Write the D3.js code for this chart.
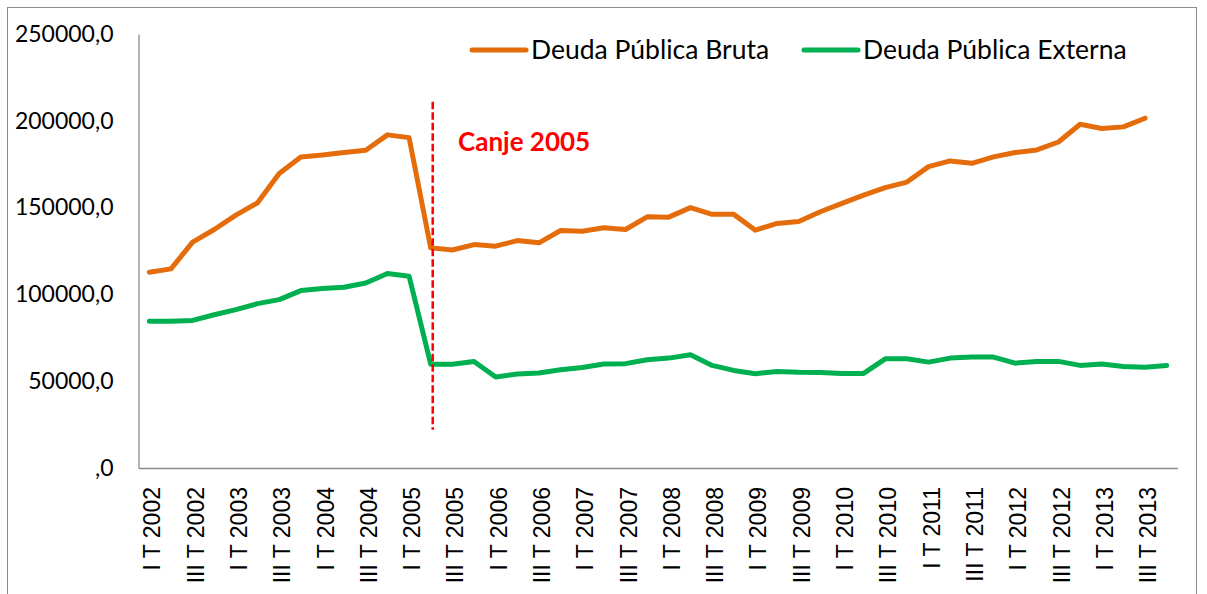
<!DOCTYPE html>
<html>
<head>
<meta charset="utf-8">
<script src="https://cdn.jsdelivr.net/npm/d3@7"></script>
<style>
  body { margin: 0; background: #fff; }
  svg { display: block; }
</style>
</head>
<body>
<div id="chart"></div>
<script>
// quarterly data, I T 2002 .. IV T 2013
const categories = [
  "I T 2002", "II T 2002", "III T 2002", "IV T 2002",
  "I T 2003", "II T 2003", "III T 2003", "IV T 2003",
  "I T 2004", "II T 2004", "III T 2004", "IV T 2004",
  "I T 2005", "II T 2005", "III T 2005", "IV T 2005",
  "I T 2006", "II T 2006", "III T 2006", "IV T 2006",
  "I T 2007", "II T 2007", "III T 2007", "IV T 2007",
  "I T 2008", "II T 2008", "III T 2008", "IV T 2008",
  "I T 2009", "II T 2009", "III T 2009", "IV T 2009",
  "I T 2010", "II T 2010", "III T 2010", "IV T 2010",
  "I T 2011", "II T 2011", "III T 2011", "IV T 2011",
  "I T 2012", "II T 2012", "III T 2012", "IV T 2012",
  "I T 2013", "II T 2013", "III T 2013", "IV T 2013"
];

const deudaBruta = [
  112800, 114700, 130100, 137400, 145700, 152800, 169700, 179200,
  180300, 181700, 183000, 191900, 190300, 126800, 125600, 128700,
  127800, 131000, 129700, 136800, 136400, 138400, 137400, 144700,
  144500, 150000, 146100, 146100, 137000, 140900, 142000, 147600,
  152400, 157200, 161500, 164700, 173600, 176900, 175500, 179200,
  181700, 183200, 187800, 198000, 195600, 196500, 201500, null
];

const deudaExterna = [
  84500, 84500, 85000, 88300, 91200, 94700, 97000, 102200,
  103400, 104100, 106600, 112000, 110500, 59800, 59800, 61400,
  52400, 54100, 54700, 56600, 57900, 59900, 60100, 62400,
  63300, 65200, 59100, 56200, 54300, 55600, 55100, 55000,
  54500, 54500, 62900, 62900, 61000, 63300, 63900, 63900,
  60400, 61400, 61400, 59100, 59900, 58500, 58100, 59100
];

const seriesNames = ["Deuda Pública Bruta", "Deuda Pública Externa"];
const seriesColors = ["#E46C0A", "#00B050"];
const yTicks = [0, 50000, 100000, 150000, 200000, 250000];

// annotation: debt swap in 2005
const canjeLabel = "Canje 2005";
const canjeCategory = "II T 2005";
const canjeRange = [22000, 211000];

const width = 1207, height = 594;
const plot = { left: 138.5, right: 1177.5, top: 34, bottom: 468 };

const svg = d3.select("#chart")
  .append("svg")
  .attr("width", width)
  .attr("height", height);

svg.append("rect")
  .attr("width", width).attr("height", height)
  .attr("fill", "#fff");

// outer chart border
svg.append("rect")
  .attr("x", 7.5).attr("y", 7.5)
  .attr("width", 1189).attr("height", 600)
  .attr("fill", "none")
  .attr("stroke", "#8c8c8c")
  .attr("stroke-width", 1);

const x = d3.scaleBand()
  .domain(categories)
  .range([plot.left, plot.right]);
const xc = c => x(c) + x.bandwidth() / 2;

const y = d3.scaleLinear()
  .domain([0, 250000])
  .range([plot.bottom, plot.top]);

const fmt = v => v === 0 ? ",0" : v.toFixed(1).replace(".", ",");

// Y axis
const yAxis = svg.append("g")
  .attr("transform", `translate(${plot.left},0)`)
  .call(d3.axisLeft(y).tickValues(yTicks).tickFormat(fmt).tickSize(0).tickPadding(25));
yAxis.select(".domain").attr("stroke", "#8c8c8c").attr("stroke-width", 1.3);
yAxis.selectAll("text")
  .attr("font-family", "Lato, sans-serif")
  .attr("font-size", 23)
  .attr("fill", "#000");

// X axis
const xAxis = svg.append("g")
  .attr("transform", `translate(0,${plot.bottom})`)
  .call(d3.axisBottom(x)
    .tickValues(categories.filter((d, i) => i % 2 === 0))
    .tickSize(0).tickPadding(0));
xAxis.select(".domain").attr("stroke", "#8c8c8c").attr("stroke-width", 1.3);
xAxis.selectAll("text")
  .attr("font-family", "'Liberation Sans', Arial, sans-serif")
  .attr("font-size", 23)
  .attr("fill", "#000")
  .attr("text-anchor", "end")
  .attr("dy", "0.35em")
  .attr("transform", "translate(3,19) rotate(-90)")
  .attr("x", 0).attr("y", 0);

// lines
const line = d3.line()
  .defined(d => d != null)
  .x((d, i) => xc(categories[i]))
  .y(d => y(d));

[deudaBruta, deudaExterna].forEach((vals, k) => {
  svg.append("path")
    .datum(vals)
    .attr("fill", "none")
    .attr("stroke", seriesColors[k])
    .attr("stroke-width", 5)
    .attr("stroke-linejoin", "round")
    .attr("stroke-linecap", "round")
    .attr("d", line);
});

// Canje 2005 marker
svg.append("line")
  .attr("x1", xc(canjeCategory) + 2).attr("x2", xc(canjeCategory) + 2)
  .attr("y1", y(canjeRange[1])).attr("y2", y(canjeRange[0]))
  .attr("stroke", "#ff0000")
  .attr("stroke-width", 2.5)
  .attr("stroke-dasharray", "7.5,3");

svg.append("text")
  .attr("x", 458).attr("y", 142)
  .attr("dy", "0.35em")
  .attr("font-family", "Lato, sans-serif")
  .attr("font-weight", "bold")
  .attr("font-size", 26)
  .attr("fill", "#ff0000")
  .text(canjeLabel);

// legend
const legendX = [472, 804];
const legend = svg.append("g");
seriesNames.forEach((name, k) => {
  legend.append("line")
    .attr("x1", legendX[k]).attr("x2", legendX[k] + 54)
    .attr("y1", 50).attr("y2", 50)
    .attr("stroke", seriesColors[k])
    .attr("stroke-width", 5)
    .attr("stroke-linecap", "round");
  legend.append("text")
    .attr("x", legendX[k] + 59).attr("y", 50)
    .attr("dy", "0.35em")
    .attr("font-family", "Lato, sans-serif")
    .attr("font-size", 26.5)
    .attr("fill", "#000")
    .text(name);
});
</script>
</body>
</html>
